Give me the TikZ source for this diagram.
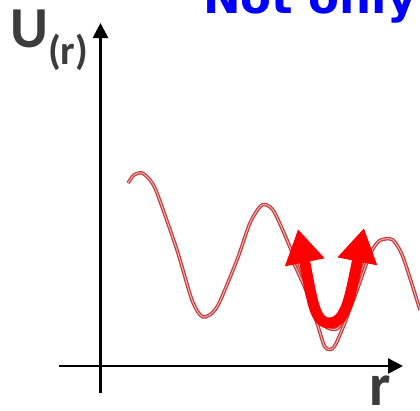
\documentclass[tikz,border=0pt]{standalone}
\usepackage{fontspec}
\setmainfont{DejaVu Sans}
\newfontfamily\lblfont{Carlito}
\usepackage{tikz}
\usetikzlibrary{arrows.meta,positioning,calc}
\usepackage{xcolor}
\definecolor{ink}    {HTML}{3C3C3C}
\definecolor{wellred}{HTML}{C43A3A}
\definecolor{hop}    {HTML}{FF0000}
\definecolor{headblue}{HTML}{0000FF}

\tikzset{
  axis/.style={line width=2.6pt, -{Triangle[width=15pt,length=15pt]}},
  pes/.style={draw=wellred, line width=1.2pt, double=wellred!40!white,
    double distance=1.1pt, line join=round},
  lbl/.style={inner sep=0pt, text=ink, anchor=base west}
}

\begin{document}
\begin{tikzpicture}[x=1pt, y=-1pt]
        \useasboundingbox (0,0) rectangle (420,410);
        \clip (0,0) rectangle (420,410);
        % axes
        \coordinate (ybot) at (100.5,393);
        \coordinate (ytop) at (100.5,23);
        \coordinate (xleft) at (59,366);
        \coordinate (xright) at (403,366);
        \draw[axis] (ybot) -- (ytop);
        \draw[axis] (xleft) -- (xright);
        % labels
        \node[lbl, font=\lblfont\bfseries\fontsize{58}{58}\selectfont] (ulbl) at (10,47) {U};
        \node[lbl, font=\lblfont\bfseries\fontsize{41}{41}\selectfont] (usub) at (48,64) {(r)};
        \node[lbl, font=\lblfont\bfseries\fontsize{60}{60}\selectfont] (rlbl) at (369,405) {r};
        \node[anchor=base west, inner sep=0pt, text=headblue,
          font=\bfseries\fontsize{45}{45}\selectfont] (head) at (203,13) {Not only};
        % energy landscape
        \draw[pes] plot[smooth, tension=0.45] coordinates {
          (128,183) (134,175) (142,173) (150,180) (157,193) (177,250)
          (192,300) (203,317) (217,307) (237,260) (250,223) (262,205)
          (273,210) (287,240) (300,273) (317,323) (325,347) (334,347)
          (347,317) (363,267) (377,243) (385,239) (393,240) (403,257)
          (420,310)};
        \draw[pes] plot[smooth, tension=0.45] coordinates {
          (291,257) (307,292) (320,320) (328,328) (338,328) (351,306)
          (367,262)};
        % hopping arrow
        \coordinate (ltip) at (298,229);
        \coordinate (rtip) at (364,228);
        \coordinate (ubot) at (330,323);
        \draw[hop, line width=11pt,
          {Triangle[width=38pt,length=34pt]}-{Triangle[width=38pt,length=34pt]}]
          (ltip) .. controls (312,298) and (314,324) .. (ubot)
          .. controls (346,322) and (350,298) .. (rtip);
      \end{tikzpicture}
\end{document}
